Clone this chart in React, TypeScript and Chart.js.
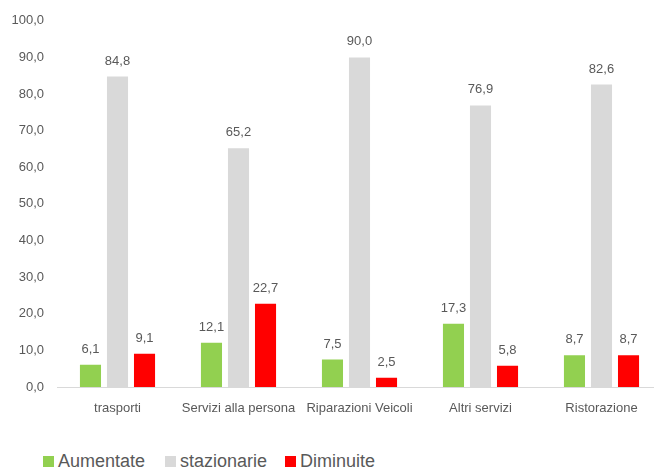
import React, { useEffect, useRef } from "react";
import { Chart, registerables } from "chart.js";

Chart.register(...registerables);

const categories = ["trasporti", "Servizi alla persona", "Riparazioni Veicoli", "Altri servizi", "Ristorazione"];
const aumentate = [6.1, 12.1, 7.5, 17.3, 8.7];
const stazionarie = [84.8, 65.2, 90.0, 76.9, 82.6];
const diminuite = [9.1, 22.7, 2.5, 5.8, 8.7];
const seriesNames = ["Aumentate", "stazionarie", "Diminuite"];
const seriesColors = ["#92D050", "#D9D9D9", "#FF0000"];

const FONT = "'Liberation Sans', Arial, sans-serif";
const TEXT = "#595959";

const fmt = (v: number) => v.toFixed(1).replace(".", ",");

const labelPlugin = {
  id: "valueLabels",
  afterDatasetsDraw(chart: any) {
    const ctx = chart.ctx;
    ctx.save();
    ctx.font = `13px ${FONT}`;
    ctx.fillStyle = TEXT;
    ctx.textAlign = "center";
    ctx.textBaseline = "bottom";
    chart.data.datasets.forEach((ds: any, i: number) => {
      const meta = chart.getDatasetMeta(i);
      meta.data.forEach((bar: any, j: number) => {
        ctx.fillText(fmt(ds.data[j]), bar.x, bar.y - 9);
      });
    });
    ctx.restore();
  },
};

export default function App() {
  const ref = useRef<HTMLCanvasElement>(null);
  useEffect(() => {
    if (!ref.current) return;
    const data = [aumentate, stazionarie, diminuite];
    const chart = new Chart(ref.current, {
      type: "bar",
      data: {
        labels: categories,
        datasets: data.map((d, i) => ({
          label: seriesNames[i],
          data: d,
          backgroundColor: seriesColors[i],
          categoryPercentage: 0.67,
          barPercentage: 0.78,
        })),
      },
      options: {
        animation: false,
        responsive: false,
        maintainAspectRatio: false,
        layout: { padding: { left: 11, top: 19, right: 0, bottom: 0 } },
        plugins: {
          legend: { display: false },
          tooltip: { enabled: false },
          title: { display: false },
        },
        scales: {
          x: {
            grid: { display: false, drawTicks: false },
            border: { display: true, color: "#D9D9D9", width: 1 },
            ticks: { color: TEXT, font: { family: FONT, size: 13 }, padding: 14, maxRotation: 0, autoSkip: false },
            afterFit: (s: any) => { s.height = 43; },
          },
          y: {
            min: 0,
            max: 100,
            grid: { display: false, drawTicks: false },
            border: { display: false },
            ticks: {
              stepSize: 10,
              color: TEXT,
              font: { family: FONT, size: 13 },
              padding: 13,
              callback: (v: any) => fmt(Number(v)),
            },
            afterFit: (s: any) => { s.width = 46; },
          },
        },
      },
      plugins: [labelPlugin],
    });
    return () => chart.destroy();
  }, []);

  const legendX = [43, 165, 285];
  return (
    <div style={{ position: "fixed", left: 0, top: 0, width: 654, height: 468, overflow: "hidden", background: "#fff" }}>
      <canvas ref={ref} width={662} height={430} style={{ position: "absolute", left: 0, top: 0 }} />
      {seriesNames.map((n, i) => (
        <div key={n} style={{ position: "absolute", left: legendX[i], top: 450, height: 22, display: "flex", alignItems: "center", fontFamily: FONT, fontSize: 18, color: TEXT, whiteSpace: "nowrap" }}>
          <span style={{ display: "inline-block", width: 11, height: 11, background: seriesColors[i], marginRight: 4 }} />
          {n}
        </div>
      ))}
    </div>
  );
}
